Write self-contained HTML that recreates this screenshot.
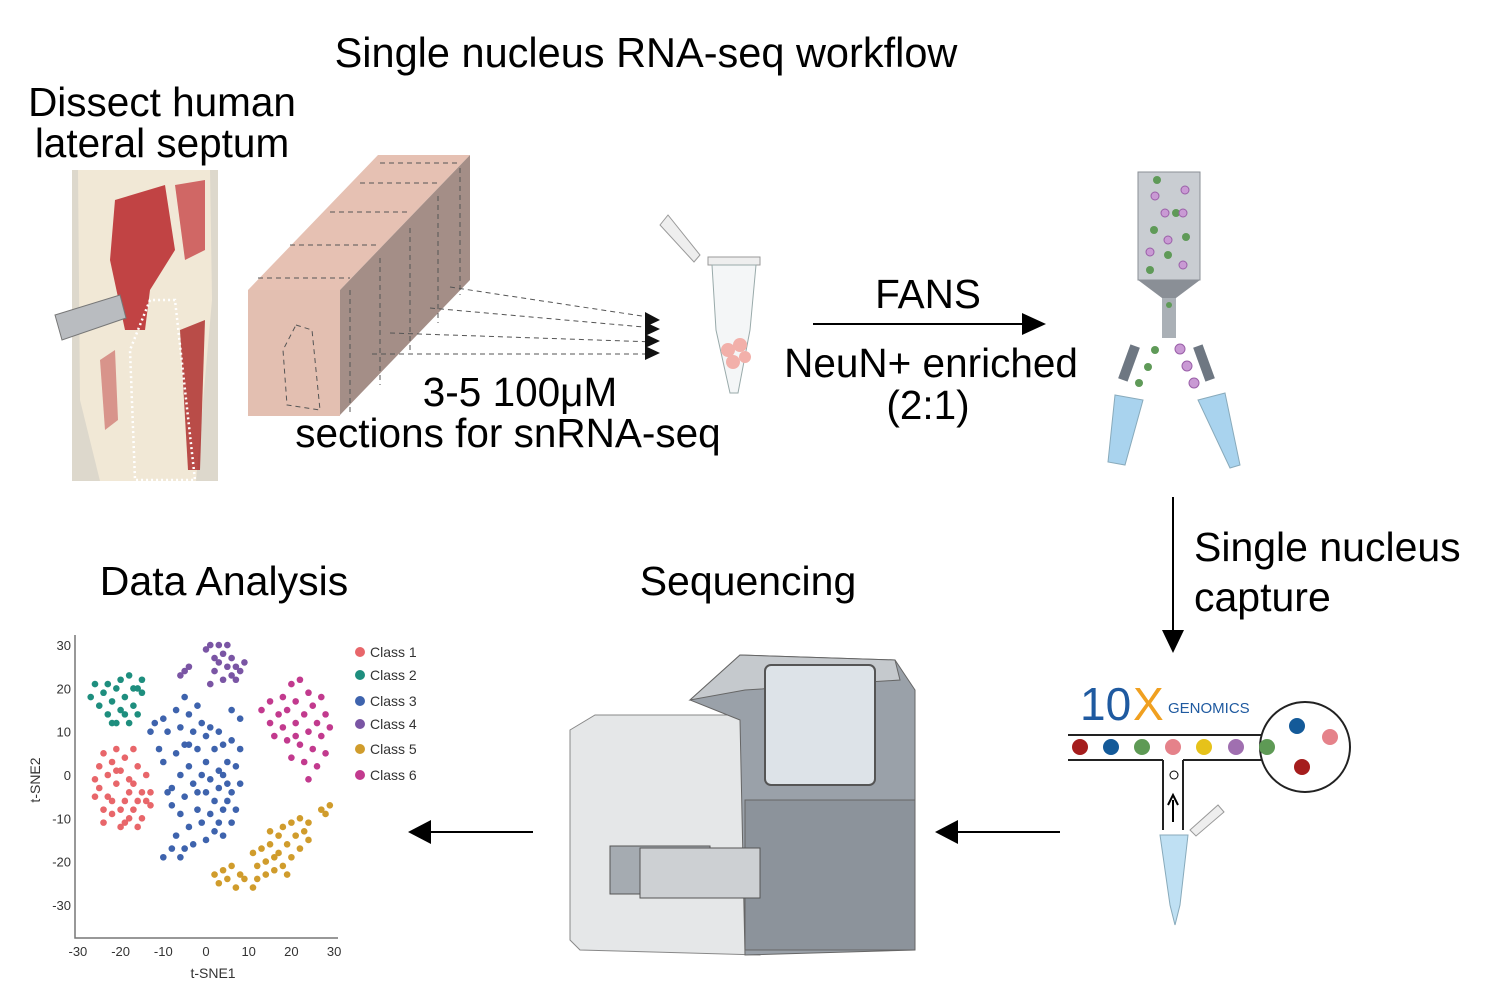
<!DOCTYPE html>
<html><head><meta charset="utf-8"><style>
body{margin:0;background:#fff;}
svg{display:block;font-family:"Liberation Sans",Arial,sans-serif;}
</style></head><body>
<svg width="1501" height="1000" viewBox="0 0 1501 1000">
<text x="646" y="67" font-size="41.5" text-anchor="middle">Single nucleus RNA-seq workflow</text>
<text x="162" y="116" font-size="40.5" text-anchor="middle">Dissect human</text>
<text x="162" y="157" font-size="40.5" text-anchor="middle">lateral septum</text>

<g>
<rect x="72" y="170" width="146" height="311" fill="#ddd8cc"/>
<path d="M78 170 L210 170 L212 300 L196 481 L100 481 L80 400 Z" fill="#f1e8d6"/>
<path d="M115 200 L165 185 L175 250 L150 290 L145 330 L125 330 L110 260 Z" fill="#b8262a" opacity="0.85"/>
<path d="M175 185 L205 180 L205 250 L185 260 Z" fill="#c23034" opacity="0.7"/>
<path d="M180 330 L205 320 L200 470 L188 470 Z" fill="#a51818" opacity="0.75"/>
<path d="M100 360 L115 350 L118 420 L105 430 Z" fill="#c04040" opacity="0.5"/>
<path d="M150 300 L130 350 L135 480 L195 480 L175 300 Z" fill="none" stroke="#fff" stroke-width="2.5" stroke-dasharray="2 3"/>
<path d="M55 315 L120 295 L126 318 L62 340 Z" fill="#b9bcc0" stroke="#777"/>
</g>

<g>
<polygon points="248,290 378,155 470,155 340,290" fill="#e6c1b3"/>
<polygon points="340,290 470,155 470,280 340,415" fill="#a48e87"/>
<rect x="248" y="290" width="92" height="126" fill="#e3bfb1"/>
<g stroke="#555" stroke-dasharray="5 4" fill="none">
<path d="M350 290 L350 415 M380 258 L380 385 M410 228 L410 352 M438 196 L438 323 M460 168 L460 295"/>
<path d="M258 278 L350 278 M290 245 L380 245 M330 212 L410 212 M360 183 L438 183 M380 163 L460 163"/>
<path d="M296 325 L312 330 L320 410 L287 405 L283 350 Z"/>
<path d="M450 287 L655 318 M430 308 L655 328 M390 333 L655 342 M372 354 L655 354"/>
</g>
<g fill="#111"><path d="M645 312 L660 320 L645 327 Z M645 322 L660 329 L645 336 Z M645 334 L660 341 L645 348 Z M645 346 L660 353 L645 360 Z"/></g>
</g>
<text x="520" y="406" font-size="40.5" text-anchor="middle">3-5 100μM</text>
<text x="508" y="447" font-size="40.5" text-anchor="middle">sections for snRNA-seq</text>

<g>
<path d="M660 225 L668 215 L700 255 L694 262 Z" fill="#eee" stroke="#999"/>
<rect x="708" y="257" width="52" height="8" fill="#eee" stroke="#999"/>
<path d="M712 265 L756 265 L750 330 L738 393 L730 393 L716 330 Z" fill="#f4f6f7" stroke="#9aa"/>
<circle cx="728" cy="350" r="7" fill="#f2b0aa"/><circle cx="740" cy="345" r="7" fill="#f2b0aa"/><circle cx="733" cy="362" r="7" fill="#f2b0aa"/><circle cx="745" cy="357" r="6" fill="#f2b0aa"/>
</g>

<text x="928" y="308" font-size="40.5" text-anchor="middle">FANS</text>
<line x1="813" y1="324" x2="1025" y2="324" stroke="#000" stroke-width="2"/>
<path d="M1022 313 L1046 324 L1022 335 Z" fill="#000"/>
<text x="931" y="377" font-size="40.5" text-anchor="middle">NeuN+ enriched</text>
<text x="928" y="419" font-size="40.5" text-anchor="middle">(2:1)</text>

<g>
<rect x="1138" y="172" width="62" height="108" fill="#c9cdd2" stroke="#8a8f96"/>
<path d="M1138 280 L1200 280 L1176 298 L1162 298 Z" fill="#8a8f96"/>
<rect x="1162" y="298" width="14" height="40" fill="#aab0b6"/>
<g fill="#5f9a58"><circle cx="1157" cy="180" r="4"/><circle cx="1176" cy="213" r="4"/><circle cx="1154" cy="230" r="4"/><circle cx="1186" cy="237" r="4"/><circle cx="1168" cy="255" r="4"/><circle cx="1150" cy="270" r="4"/><circle cx="1169" cy="305" r="3"/><circle cx="1155" cy="350" r="4"/><circle cx="1148" cy="367" r="4"/><circle cx="1139" cy="383" r="4"/></g>
<g fill="#c99ad4" stroke="#9a5fa8"><circle cx="1185" cy="190" r="4"/><circle cx="1155" cy="196" r="4"/><circle cx="1165" cy="213" r="4"/><circle cx="1183" cy="213" r="4"/><circle cx="1168" cy="240" r="4"/><circle cx="1150" cy="252" r="4"/><circle cx="1183" cy="265" r="4"/><circle cx="1180" cy="349" r="5"/><circle cx="1187" cy="366" r="5"/><circle cx="1194" cy="383" r="5"/></g>
<rect x="1124" y="345" width="10" height="36" fill="#6e7782" transform="rotate(20 1129 363)"/>
<rect x="1199" y="345" width="10" height="36" fill="#6e7782" transform="rotate(-20 1204 363)"/>
<path d="M1115 395 L1143 400 L1125 465 L1108 462 Z" fill="#a9d3ee" stroke="#8ab"/>
<path d="M1198 400 L1225 393 L1240 465 L1230 468 Z" fill="#a9d3ee" stroke="#8ab"/>
</g>

<line x1="1173" y1="497" x2="1173" y2="632" stroke="#000" stroke-width="2"/>
<path d="M1162 630 L1173 653 L1184 630 Z" fill="#000"/>
<text x="1194" y="561" font-size="41">Single nucleus</text>
<text x="1194" y="611" font-size="41">capture</text>

<g>
<text x="1080" y="720" font-size="46" fill="#1f5aa0">10</text>
<text x="1133" y="720" font-size="46" fill="#f0a020">X</text>
<text x="1168" y="713" font-size="15" fill="#1f5aa0">GENOMICS</text>
<path d="M1068 735 L1285 735 M1068 760 L1163 760 M1183 760 L1285 760 M1163 760 L1163 830 M1183 760 L1183 830" stroke="#222" stroke-width="2" fill="none"/>
<circle cx="1305" cy="747" r="45" fill="#fff" stroke="#222" stroke-width="2"/>
<circle cx="1080" cy="747" r="8" fill="#a51d1d"/><circle cx="1111" cy="747" r="8" fill="#145a99"/><circle cx="1142" cy="747" r="8" fill="#5e9a55"/><circle cx="1173" cy="747" r="8" fill="#e5828a"/><circle cx="1204" cy="747" r="8" fill="#e6c21a"/><circle cx="1236" cy="747" r="8" fill="#a06fb0"/><circle cx="1267" cy="747" r="8" fill="#5e9a55"/>
<circle cx="1297" cy="726" r="8" fill="#145a99"/><circle cx="1330" cy="737" r="8" fill="#e5828a"/><circle cx="1302" cy="767" r="8" fill="#a51d1d"/>
<circle cx="1174" cy="775" r="4" fill="#fff" stroke="#000"/>
<path d="M1173 822 L1173 800 M1168 805 L1173 795 L1178 805" stroke="#000" stroke-width="2" fill="none"/>
<path d="M1160 835 L1188 835 L1180 905 L1175 925 L1170 905 Z" fill="#bfe0f3" stroke="#8ab"/>
<path d="M1190 830 L1218 805 L1224 812 L1196 836 Z" fill="#eee" stroke="#999"/>
</g>

<line x1="955" y1="832" x2="1060" y2="832" stroke="#000" stroke-width="2"/>
<path d="M958 820 L935 832 L958 844 Z" fill="#000"/>
<line x1="428" y1="832" x2="533" y2="832" stroke="#000" stroke-width="2"/>
<path d="M431 820 L408 832 L431 844 Z" fill="#000"/>

<text x="748" y="595" font-size="41" text-anchor="middle">Sequencing</text>
<g>
<path d="M570 730 L595 715 L760 715 L760 955 L580 950 L570 940 Z" fill="#e5e7e8" stroke="#888"/>
<path d="M690 700 L740 655 L895 660 L915 690 L915 950 L745 955 L740 720 Z" fill="#9aa1a9" stroke="#666"/>
<path d="M690 700 L740 655 L895 660 L900 680 L745 690 Z" fill="#c5c9cd" stroke="#666"/>
<rect x="765" y="665" width="110" height="120" rx="6" fill="#dde3e8" stroke="#555" stroke-width="2"/>
<rect x="745" y="800" width="170" height="150" fill="#8c939b" stroke="#666"/>
<rect x="610" y="846" width="100" height="48" fill="#a5abb1" stroke="#555"/>
<rect x="640" y="848" width="120" height="50" fill="#cdd0d3" stroke="#555"/>
</g>

<text x="224" y="595" font-size="41" text-anchor="middle">Data Analysis</text>
<g id="chart"></g>
</svg>
<script>
const xTicks=[-30,-20,-10,0,10,20,30];
const yTicks=[30,20,10,0,-10,-20,-30];
const classNames=["Class 1","Class 2","Class 3","Class 4","Class 5","Class 6"];
const classColors=["#e8666a","#1e8e7e","#3e63ad","#7a55a4","#d09c2c","#c23a8e"];
const class1=[[-26,-5],[-26,-1],[-25,2],[-25,-3],[-24,-8],[-24,5],[-23,0],[-23,-5],[-22,3],[-22,-9],[-21,-2],[-21,6],[-20,-12],[-20,1],[-19,-6],[-19,4],[-18,-10],[-18,-1],[-17,6],[-17,-8],[-16,2],[-16,-12],[-15,-4],[-15,-10],[-14,-6],[-14,0],[-13,-7],[-13,-4],[-22,-6],[-20,-8],[-18,-4],[-24,-11],[-17,-2],[-16,-6],[-19,-11],[-21,1]];
const class2=[[-27,18],[-26,21],[-25,16],[-24,19],[-23,14],[-23,21],[-22,17],[-22,12],[-21,20],[-20,15],[-20,22],[-19,18],[-18,12],[-18,23],[-17,16],[-16,20],[-16,14],[-15,22],[-15,19],[-21,12],[-19,14],[-17,20]];
const class3=[[-13,10],[-12,12],[-11,6],[-10,13],[-10,3],[-9,10],[-8,-3],[-8,-7],[-7,15],[-7,5],[-7,-14],[-6,11],[-6,0],[-6,-9],[-5,18],[-5,7],[-5,-5],[-4,-12],[-4,14],[-4,2],[-3,10],[-3,-2],[-3,-16],[-2,16],[-2,6],[-2,-8],[-1,12],[-1,0],[-1,-11],[0,9],[0,3],[0,-4],[0,-15],[1,11],[1,-1],[1,-9],[2,6],[2,-6],[2,-13],[3,10],[3,1],[3,-3],[3,-11],[4,7],[4,-8],[4,-14],[5,3],[5,-2],[5,-6],[6,15],[6,8],[6,-4],[6,-11],[7,2],[7,-8],[8,13],[8,6],[8,-2],[-10,-19],[-8,-17],[-6,-19],[-5,-17],[-9,-4],[-2,-4],[4,0],[-4,7]];
const class4=[[-6,23],[-5,24],[-4,25],[0,29],[1,30],[2,27],[2,24],[3,30],[3,26],[4,22],[4,28],[5,25],[5,30],[6,27],[7,22],[7,25],[8,24],[9,26],[1,21],[6,23]];
const class5=[[2,-23],[3,-25],[4,-22],[5,-24],[6,-21],[7,-26],[8,-23],[9,-24],[11,-26],[11,-18],[12,-21],[12,-24],[13,-17],[14,-20],[14,-23],[15,-16],[16,-19],[16,-22],[17,-14],[17,-18],[18,-12],[18,-21],[19,-16],[20,-11],[20,-19],[21,-14],[22,-17],[22,-10],[23,-13],[24,-15],[24,-11],[27,-8],[28,-9],[29,-7],[15,-13],[19,-23]];
const class6=[[13,15],[15,12],[15,17],[16,9],[17,14],[18,11],[18,18],[19,8],[19,15],[20,21],[20,4],[21,12],[21,17],[22,7],[22,22],[23,14],[23,3],[24,10],[24,19],[25,6],[25,16],[26,12],[26,2],[27,9],[27,18],[28,14],[28,5],[29,11],[24,-1],[21,9]];
const classPoints=[class1,class2,class3,class4,class5,class6];

const NS="http://www.w3.org/2000/svg";
const g=document.getElementById('chart');
const X0=75,X1=338,Y0=938,Y1=635;
function sx(v){return 206+v*4.27;}
function sy(v){return 775-v*4.33;}
function mk(tag,attrs){const e=document.createElementNS(NS,tag);for(const k in attrs)e.setAttribute(k,attrs[k]);g.appendChild(e);return e;}
const ax=mk('path',{d:`M${X0} ${Y1} L${X0} ${Y0} L${X1} ${Y0}`,stroke:'#777','stroke-width':1.5,fill:'none'});


xTicks.forEach(t=>{const e=mk('text',{x:sx(t),y:956,'font-size':13,'text-anchor':'middle',fill:'#333'});e.textContent=t;

});
yTicks.forEach(t=>{const e=mk('text',{x:71,y:sy(t)+5,'font-size':13,'text-anchor':'end',fill:'#333'});e.textContent=t;

});
const xt=mk('text',{x:213,y:978,'font-size':14,'text-anchor':'middle',fill:'#333'});xt.textContent='t-SNE1';


const yt=mk('text',{x:40,y:780,'font-size':14,'text-anchor':'middle',fill:'#333',transform:'rotate(-90 40 780)'});yt.textContent='t-SNE2';


classPoints.forEach((pts,i)=>{pts.forEach(p=>{const c=mk('circle',{cx:sx(p[0]),cy:sy(p[1]),r:3.3,fill:classColors[i]});

});});
const ly=[652,675,701,724,749,775];
classNames.forEach((n,i)=>{const c=mk('circle',{cx:360,cy:ly[i],r:5,fill:classColors[i]});


const t=mk('text',{x:370,y:ly[i]+5,'font-size':14,fill:'#333'});t.textContent=n;

});
</script>
</body></html>
